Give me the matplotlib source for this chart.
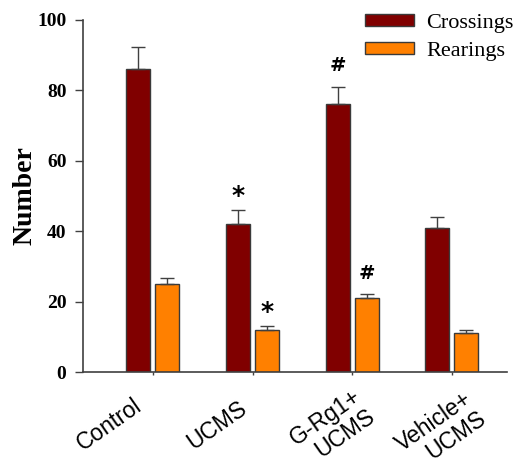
import matplotlib.pyplot as plt
from matplotlib.transforms import ScaledTranslation
import numpy as np

groups = ['Control', 'UCMS', 'G-Rg1+\nUCMS', 'Vehicle+\nUCMS']
crossings = [86, 42, 76, 41]
crossings_err = [6.3, 4, 5, 3]
rearings = [25, 12, 21, 11]
rearings_err = [1.8, 1, 1.1, 0.9]
cross_marks = ['', '*', '#', '']
rear_marks = ['', '*', '#', '']

fig = plt.figure(figsize=(5.16, 4.68), dpi=100)
ax = fig.add_axes([0.161, 0.205, 0.822, 0.753])

x = np.arange(len(groups))
w = 0.24
off = 0.145
ekw = dict(ecolor='#404040', elinewidth=1, capthick=1)
ax.bar(x - off, crossings, w, color='#800000', edgecolor='#3a3a3a', linewidth=1,
       yerr=[np.zeros(4), crossings_err], capsize=5, error_kw=ekw, label='Crossings')
ax.bar(x + off, rearings, w, color='#FF8000', edgecolor='#3a3a3a', linewidth=1,
       yerr=[np.zeros(4), rearings_err], capsize=5, error_kw=ekw, label='Rearings')

# significance marks
def mark(xpos, top, m):
    if not m:
        return
    if m == '*':
        ax.text(xpos, top + 0.6, m, ha='center', va='bottom', fontsize=18,
                fontweight='bold', family='DejaVu Sans')
    else:
        ax.text(xpos, top + 3.2, m, ha='center', va='bottom', fontsize=14,
                fontweight='bold', family='DejaVu Sans')

for i in range(len(groups)):
    mark(x[i] - off, crossings[i] + crossings_err[i], cross_marks[i])
    mark(x[i] + off, rearings[i] + rearings_err[i], rear_marks[i])

ax.set_xlim(-0.7, 3.555)
ax.set_ylim(0, 100)
ax.set_yticks([0, 20, 40, 60, 80, 100])
ax.set_yticklabels(['0', '20', '40', '60', '80', '100'], family='Liberation Serif',
                   fontweight='bold', fontsize=14)
ax.set_xticks(x)
ax.set_xticklabels([])
ax.tick_params(axis='x', length=2, width=1, color='#404040')
ax.tick_params(axis='y', length=6, width=1, color='#404040', pad=6)

# rotated group labels
dxs = [-20, -15, 0, 11]
dys = [-22, -25, -13, -15]
for i, g in enumerate(groups):
    tr = ax.get_xaxis_transform() + ScaledTranslation(dxs[i] / 100, dys[i] / 100, fig.dpi_scale_trans)
    ax.text(x[i], 0, g, transform=tr, rotation=35, rotation_mode='anchor',
            ha='right', va='top', multialignment='right', family='Liberation Sans',
            fontsize=16.5, linespacing=1.05)

ax.set_ylabel('Number', family='Liberation Serif', fontweight='bold', fontsize=20, labelpad=0)

for s in ['top', 'right']:
    ax.spines[s].set_visible(False)
for s in ['left', 'bottom']:
    ax.spines[s].set_color('#404040')
    ax.spines[s].set_linewidth(1.2)

leg = fig.legend(*ax.get_legend_handles_labels(), loc='upper left',
                 bbox_to_anchor=(365 / 516, 1 - 14 / 468), frameon=False,
                 prop={'family': 'Liberation Serif', 'size': 16},
                 borderpad=0, borderaxespad=0,
                 handlelength=2.2, handleheight=0.45, handletextpad=0.55, labelspacing=0.4)

fig.savefig('out.png', dpi=100)
